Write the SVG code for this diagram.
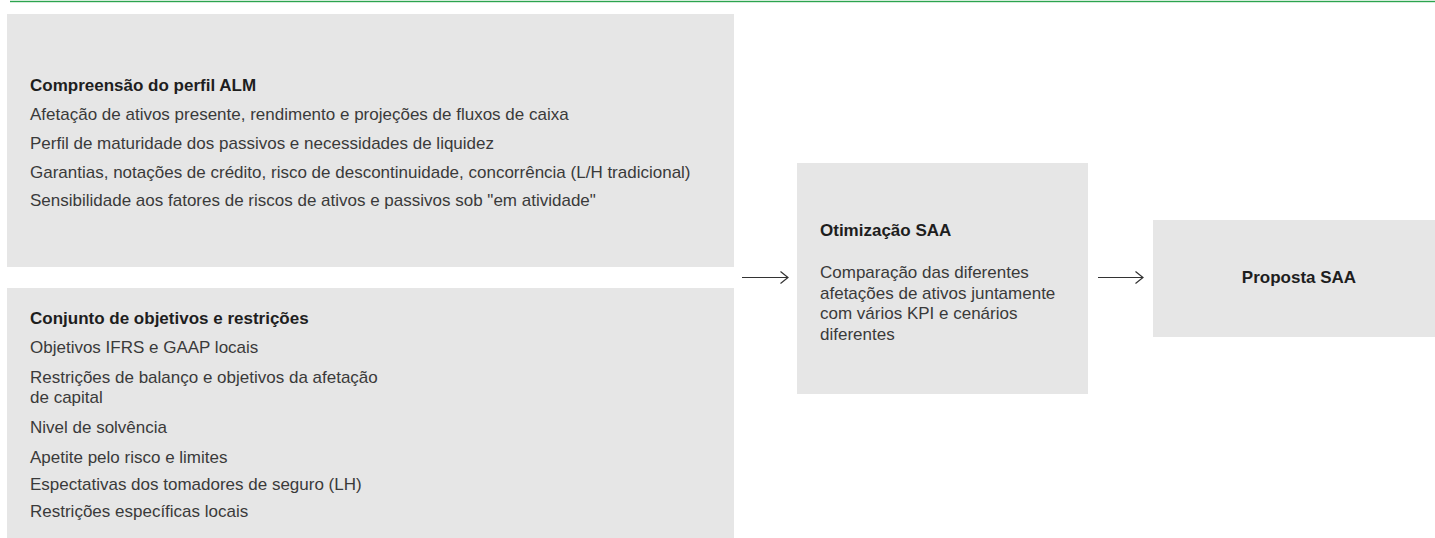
<svg xmlns="http://www.w3.org/2000/svg" width="1435" height="538" viewBox="0 0 1435 538">
  <defs>
    <style>
      .box { fill: #e6e6e6; }
      .t { font-family: "Liberation Sans", Arial, sans-serif; font-size: 17px; fill: #3a3a3a; }
      .b { font-family: "Liberation Sans", Arial, sans-serif; font-size: 17px; font-weight: bold; fill: #1e1e1e; }
      .conn { stroke: #333333; stroke-width: 1.2; fill: none; }
    </style>
    <marker id="chev" viewBox="0 0 10 14" refX="9.5" refY="7" markerWidth="10" markerHeight="14" markerUnits="userSpaceOnUse" orient="auto">
      <path d="M2,1 L9.5,7 L2,13" fill="none" stroke="#333333" stroke-width="1.2"/>
    </marker>
  </defs>
  <rect x="0" y="0" width="1435" height="538" fill="#ffffff"/>
  <rect x="10" y="0.8" width="1425" height="1.4" fill="#2ca44e"/>

  <g id="node-alm">
    <rect class="box" x="7" y="14" width="727" height="253"/>
    <text class="b" x="30" y="91">Compreensão do perfil ALM</text>
    <text class="t" x="30" y="120">Afetação de ativos presente, rendimento e projeções de fluxos de caixa</text>
    <text class="t" x="30" y="149">Perfil de maturidade dos passivos e necessidades de liquidez</text>
    <text class="t" x="30" y="178">Garantias, notações de crédito, risco de descontinuidade, concorrência (L/H tradicional)</text>
    <text class="t" x="30" y="206">Sensibilidade aos fatores de riscos de ativos e passivos sob "em atividade"</text>
  </g>

  <g id="node-objetivos">
    <rect class="box" x="7" y="288" width="727" height="250"/>
    <text class="b" x="30" y="324">Conjunto de objetivos e restrições</text>
    <text class="t" x="30" y="353">Objetivos IFRS e GAAP locais</text>
    <text class="t" x="30" y="383">Restrições de balanço e objetivos da afetação</text>
    <text class="t" x="30" y="403">de capital</text>
    <text class="t" x="30" y="433">Nivel de solvência</text>
    <text class="t" x="30" y="463">Apetite pelo risco e limites</text>
    <text class="t" x="30" y="490">Espectativas dos tomadores de seguro (LH)</text>
    <text class="t" x="30" y="517">Restrições específicas locais</text>
  </g>

  <g id="node-otimizacao">
    <rect class="box" x="797" y="163" width="291" height="231"/>
    <text class="b" x="820" y="236">Otimização SAA</text>
    <text class="t" x="820" y="278">Comparação das diferentes</text>
    <text class="t" x="820" y="298.5">afetações de ativos juntamente</text>
    <text class="t" x="820" y="319">com vários KPI e cenários</text>
    <text class="t" x="820" y="339.5">diferentes</text>
  </g>

  <g id="node-proposta">
    <rect class="box" x="1153" y="220" width="282" height="117"/>
    <text class="b" x="1299" y="283" text-anchor="middle">Proposta SAA</text>
  </g>

  <g id="connectors">
    <line class="conn" x1="742" y1="277.5" x2="788" y2="277.5" marker-end="url(#chev)"/>
    <line class="conn" x1="1098" y1="277.5" x2="1143" y2="277.5" marker-end="url(#chev)"/>
  </g>
</svg>
